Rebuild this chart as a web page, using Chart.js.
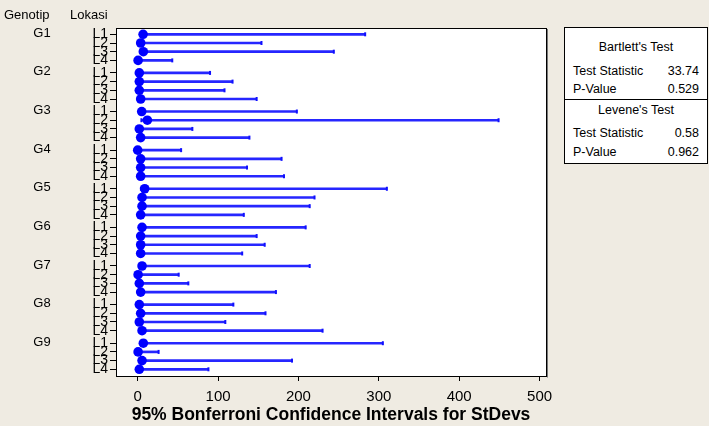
<!DOCTYPE html>
<html>
<head>
<meta charset="utf-8">
<script src="https://cdn.jsdelivr.net/npm/chart.js@4/dist/chart.umd.min.js"></script>
<style>
  html, body { margin: 0; padding: 0; background: #EFEBE2; }
  #wrap { position: relative; width: 709px; height: 426px; font-family: "Liberation Sans", Arial, sans-serif; color: #000; }
  #c { position: absolute; left: 0; top: 0; }
  .hdr { position: absolute; font-size: 13px; line-height: 13px; }
  #tbl { position: absolute; left: 564px; top: 27px; width: 144px; height: 137px; border: 1px solid #000; background: #fff; box-sizing: border-box; font-size: 12.5px; }
  #tbl .t { position: absolute; left: 0; width: 100%; text-align: center; line-height: 14px; }
  #tbl .l { position: absolute; left: 8px; line-height: 14px; }
  #tbl .v { position: absolute; right: 8px; line-height: 14px; text-align: right; }
  #tbl .div { position: absolute; left: 0; width: 100%; top: 71px; border-top: 1px solid #000; }
</style>
</head>
<body>
<div id="wrap">
  <canvas id="c" width="709" height="426"></canvas>
  <div class="hdr" style="left:4px; top:8px;">Genotip</div>
  <div class="hdr" style="left:70px; top:8px;">Lokasi</div>
  <div id="tbl">
    <div class="t" style="top:12px;">Bartlett's Test</div>
    <div class="l" style="top:36px;">Test Statistic</div><div class="v" style="top:36px;">33.74</div>
    <div class="l" style="top:54px;">P-Value</div><div class="v" style="top:54px;">0.529</div>
    <div class="div"></div>
    <div class="t" style="top:75px;">Levene's Test</div>
    <div class="l" style="top:98px;">Test Statistic</div><div class="v" style="top:98px;">0.58</div>
    <div class="l" style="top:117px;">P-Value</div><div class="v" style="top:117px;">0.962</div>
  </div>
</div>
<script>
// ---- data ----
const genotip = ['G1','G2','G3','G4','G5','G6','G7','G8','G9'];
const lokasi = ['L1','L2','L3','L4'];
// StDev point estimates (dots), row order G1L1..G1L4, G2L1..., G9L4
const stdev = [
  6.7, 3.7, 7.0, 0.5,
  2.0, 2.0, 2.0, 3.7,
  5.0, 12.0, 2.0, 3.7,
  0.0, 3.7, 3.7, 3.7,
  8.7, 5.4, 5.4, 3.7,
  5.4, 3.7, 3.7, 3.7,
  5.4, 0.5, 2.0, 3.7,
  2.0, 3.7, 2.0, 5.4,
  7.0, 0.5, 5.4, 2.0
];
// Upper 95% Bonferroni confidence bounds
const upper = [
  283, 154, 244, 43,
  90, 118, 108, 148,
  198, 449, 68, 139,
  54, 179, 136, 182,
  310, 220, 214, 132,
  209, 148, 158, 130,
  214, 51, 63, 172,
  119, 159, 109, 230,
  305, 26, 192, 88
];
// Lower 95% Bonferroni confidence bounds
const lower = [
  3.0, 1.5, 3.5, 0.2,
  1.0, 1.0, 1.0, 1.5,
  2.5, 4.6, 1.0, 1.6,
  0.0, 1.7, 1.7, 1.6,
  4.0, 2.5, 2.5, 1.7,
  2.5, 1.7, 1.7, 1.7,
  2.5, 0.2, 1.0, 1.7,
  1.0, 1.7, 1.0, 2.5,
  3.5, 0.2, 2.5, 1.0
];
const xTicks = [0, 100, 200, 300, 400, 500];

// ---- layout helpers (row positions on a linear axis) ----
const GROUP_STRIDE = 4.44;
const rowPos = [];
genotip.forEach((g, gi) => lokasi.forEach((l, li) => rowPos.push(gi * GROUP_STRIDE + li)));

const barData = rowPos.map((p, i) => ({ y: p, x: [lower[i], upper[i]] }));
const dotData = rowPos.map((p, i) => ({ x: stdev[i], y: p }));
const capData = rowPos.map((p, i) => ({ x: upper[i], y: p }))
  .concat(rowPos.map((p, i) => ({ x: lower[i], y: p })));

const FONT = '"Liberation Sans", Arial, sans-serif';

const framePlugin = {
  id: 'frame',
  beforeDraw(chart) {
    const { ctx, chartArea: a } = chart;
    ctx.save();
    ctx.fillStyle = '#ffffff';
    ctx.fillRect(a.left, a.top, a.right - a.left, a.bottom - a.top);
    ctx.restore();
  },
  afterDraw(chart) {
    const { ctx, chartArea: a } = chart;
    ctx.save();
    ctx.strokeStyle = '#000';
    ctx.lineWidth = 1;
    ctx.strokeRect(Math.round(a.left) + 0.5, Math.round(a.top) + 0.5,
                   Math.round(a.right - a.left), Math.round(a.bottom - a.top));
    ctx.strokeStyle = '#777';
    ctx.beginPath();
    ctx.moveTo(Math.round(a.right) + 1.5, Math.round(a.top) + 1);
    ctx.lineTo(Math.round(a.right) + 1.5, Math.round(a.bottom) + 1.5);
    ctx.stroke();
    // group labels
    const ys = chart.scales.y;
    ctx.fillStyle = '#000';
    ctx.font = '13px ' + FONT;
    ctx.textAlign = 'center';
    ctx.textBaseline = 'middle';
    genotip.forEach((g, gi) => {
      ctx.fillText(g, 42, ys.getPixelForValue(gi * GROUP_STRIDE) - 1);
    });
    ctx.restore();
  }
};

new Chart(document.getElementById('c'), {
  type: 'bar',
  data: {
    datasets: [
      {
        type: 'scatter',
        data: dotData,
        pointRadius: 4.8,
        pointHoverRadius: 4.8,
        backgroundColor: '#0000FF',
        borderColor: '#0000FF',
        borderWidth: 0,
        order: 0
      },
      {
        type: 'scatter',
        data: capData,
        pointStyle: 'line',
        rotation: 90,
        pointRadius: 2,
        borderColor: '#1010FF',
        borderWidth: 2,
        order: 1
      },
      {
        type: 'bar',
        indexAxis: 'y',
        data: barData,
        backgroundColor: '#2626FF',
        borderWidth: 0,
        barThickness: 2,
        borderSkipped: false,
        order: 2
      }
    ]
  },
  options: {
    responsive: false,
    animation: false,
    events: [],
    layout: { padding: { top: 28, right: 163, left: 0, bottom: 0 } },
    plugins: { legend: { display: false }, tooltip: { enabled: false } },
    scales: {
      x: {
        type: 'linear',
        offset: false,
        min: -27,
        max: 508,
        afterBuildTicks: (s) => { s.ticks = xTicks.map(v => ({ value: v })); },
        afterFit: (s) => { s.height = 50; },
        grid: { display: true, offset: false, drawOnChartArea: false, tickLength: 5, color: '#000' },
        border: { display: false },
        ticks: { color: '#000', font: { family: FONT, size: 15 }, padding: 7, autoSkip: false, maxRotation: 0 },
        title: {
          display: true,
          text: '95% Bonferroni Confidence Intervals for StDevs',
          color: '#000',
          font: { family: FONT, size: 17.5, weight: 'bold' },
          padding: { top: 0, bottom: 0 }
        }
      },
      y: {
        type: 'linear',
        offset: false,
        reverse: true,
        min: -0.725,
        max: 39.29,
        afterBuildTicks: (s) => { s.ticks = rowPos.map(v => ({ value: v })); },
        afterFit: (s) => { s.width = 116; },
        grid: { display: true, offset: false, drawOnChartArea: false, tickLength: 6, color: '#000' },
        border: { display: false },
        ticks: {
          color: '#000',
          font: { family: FONT, size: 14 },
          padding: 2,
          autoSkip: false,
          callback: (v, i) => lokasi[i % lokasi.length]
        }
      }
    }
  },
  plugins: [framePlugin]
});
</script>
</body>
</html>
